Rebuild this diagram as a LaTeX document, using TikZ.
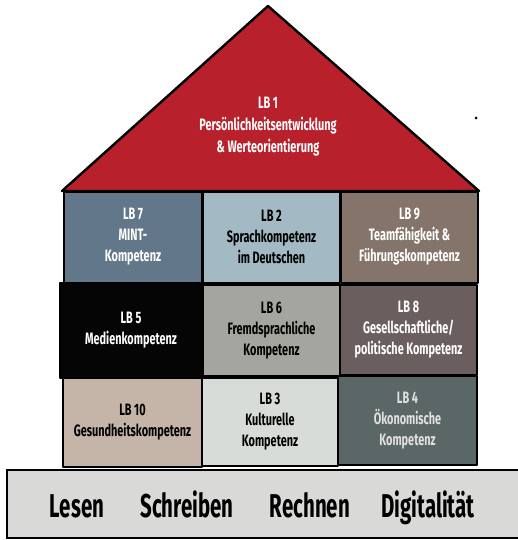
\documentclass[tikz,border=0pt]{standalone}
\usepackage{fontspec}
\newfontfamily\lbfont{Fira Sans}[FakeStretch=0.66]
\newfontfamily\basefont{Fira Sans}[FakeStretch=0.62]
\definecolor{roofred}{HTML}{B8202B}
\definecolor{cLBseven}{HTML}{62788A}
\definecolor{cLBtwo}{HTML}{A3BAC5}
\definecolor{cLBnine}{HTML}{857469}
\definecolor{cLBfive}{HTML}{050505}
\definecolor{cLBsix}{HTML}{A5A59F}
\definecolor{cLBeight}{HTML}{6A5F5E}
\definecolor{cLBten}{HTML}{C5B5A9}
\definecolor{cLBthree}{HTML}{D8DCD8}
\definecolor{cLBfour}{HTML}{5B6666}
\definecolor{basegray}{HTML}{D9DAD7}
\tikzset{
  lbbox/.style={draw=black, line width=2pt, line join=round, rectangle, inner sep=0pt,
    align=center, font=\lbfont\bfseries\fontsize{16.5}{21}\selectfont},
  wtext/.style={text=white},
  btext/.style={text=black},
  basetext/.style={font=\basefont\bfseries\fontsize{33}{33}\selectfont, text=black, anchor=base}
}
\begin{document}
\begin{tikzpicture}[x=1pt,y=-1pt]
\useasboundingbox (0,0) rectangle (518,540);
% roof
\coordinate (apex) at (268,6);
\coordinate (rl) at (62,191);
\coordinate (rr) at (479,191);
\draw[fill=roofred, line width=2.4pt, line join=round] (rl) -- (apex) -- (rr) -- cycle;
\node[font=\lbfont\bfseries\fontsize{16.5}{22}\selectfont, text=white, align=center] (lb1) at (268,127)
  {LB 1\\Persönlichkeitsentwicklung\\\& Werteorientierung};
% dot
\fill (476,118) circle (1.5pt);
% row 1
\node[lbbox, fill=cLBseven, wtext, minimum width=138pt, minimum height=91pt] (lb7) at (133,237) {LB 7\\MINT-\\Kompetenz};
\node[lbbox, fill=cLBtwo, btext, minimum width=137pt, minimum height=91pt] (lb2) at (271.5,237) {LB 2\\Sprachkompetenz\\im Deutschen};
\node[lbbox, fill=cLBnine, wtext, minimum width=137pt, minimum height=91pt] (lb9) at (409.5,237) {LB 9\\Teamfähigkeit \&\\Führungskompetenz};
% row 2
\node[lbbox, fill=cLBfive, wtext, minimum width=142pt, minimum height=95pt] (lb5) at (131,330) {LB 5\\Medienkompetenz};
\node[lbbox, fill=cLBsix, btext, minimum width=137pt, minimum height=91pt] (lb6) at (271.5,330.5) {LB 6\\Fremdsprachliche\\Kompetenz};
\node[lbbox, fill=cLBeight, wtext, minimum width=137pt, minimum height=90pt] (lb8) at (408.5,330) {LB 8\\Gesellschaftliche/\\politische Kompetenz};
% row 3
\node[lbbox, fill=cLBten, btext, minimum width=139pt, minimum height=89pt] (lb10) at (132.5,422.5) {LB 10\\Gesundheitskompetenz};
\node[lbbox, fill=cLBthree, btext, minimum width=136pt, minimum height=88pt] (lb3) at (270,422) {LB 3\\Kulturelle\\Kompetenz};
\node[lbbox, fill=cLBfour, wtext, minimum width=139pt, minimum height=89pt, text=white!88!black] (lb4) at (407.5,420.5) {LB 4\\Ökonomische\\Kompetenz};
% base
\node[draw=black, line width=2pt, fill=basegray, rectangle, inner sep=0pt, minimum width=514pt, minimum height=68pt] (base) at (264,504) {};
\node[basetext] (lesen) at (77,517) {Lesen};
\node[basetext] (schreiben) at (187,517) {Schreiben};
\node[basetext] (rechnen) at (310,517) {Rechnen};
\node[basetext] (digital) at (428,517) {Digitalität};
\end{tikzpicture}
\end{document}
